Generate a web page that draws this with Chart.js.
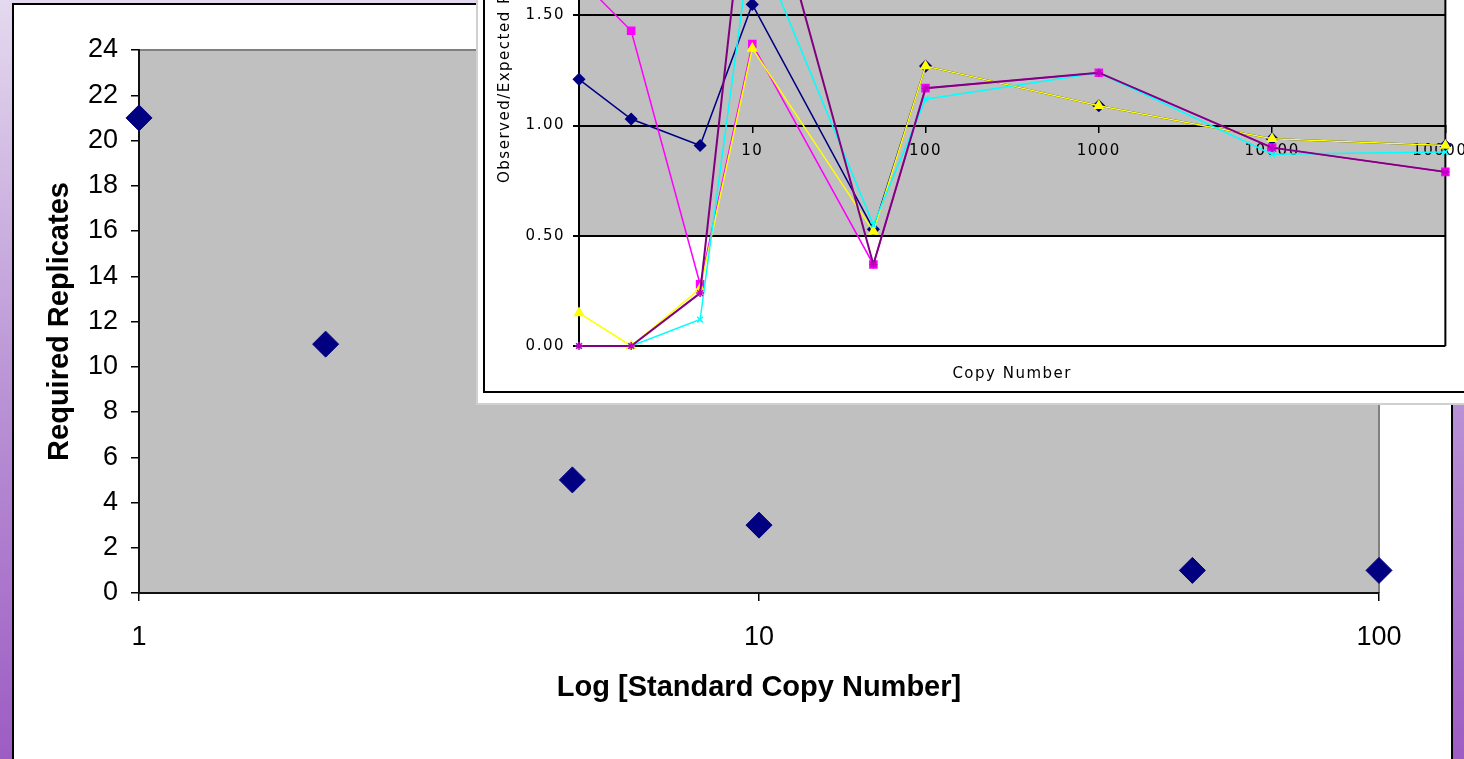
<!DOCTYPE html>
<html>
<head>
<meta charset="utf-8">
<script src="https://cdn.jsdelivr.net/npm/chart.js@4.4.0/dist/chart.umd.min.js"></script>
<style>
  html, body { margin: 0; padding: 0; }
  body {
    width: 1464px; height: 759px; overflow: hidden; position: relative;
    background: linear-gradient(to bottom, #e4d9ee 0%, #bb95d6 50%, #9d5cc3 100%);
  }
  .panel {
    position: absolute; left: 12px; top: 3px; width: 1441px; height: 800px;
    background: #fff; border: 2px solid #000; box-sizing: border-box;
  }
  #main { position: absolute; left: 14px; top: 5px; }
  .inset {
    position: absolute; left: 476px; top: 0; width: 1000px; height: 405px;
    background: #fff; border-left: 2px solid #d0d0d0; border-bottom: 2px solid #d0d0d0;
    box-sizing: border-box;
  }
  .frame {
    position: absolute; left: 483px; top: -222px; width: 1100px; height: 615px;
    border-left: 2px solid #000; border-bottom: 2px solid #000; box-sizing: border-box;
  }
  #inset { position: absolute; left: 485px; top: -222px; }
</style>
</head>
<body>
<div class="panel"></div>
<canvas id="main" width="1437" height="754"></canvas>
<div class="inset"></div>
<div class="frame"></div>
<canvas id="inset" width="1000" height="613"></canvas>
<script>
// main chart: replicates needed per standard copy number
const copyNumber = [1, 2, 5, 10, 50, 100];
const requiredReplicates = [21, 11, 5, 3, 1, 1];
const mainXTicks = [1, 10, 100];

// inset: observed/expected ratio per copy number, five runs
const insetCopyNumber = [1, 2, 5, 10, 50, 100, 1000, 10000, 100000];
const ratioNavy    = [1.21, 1.03, 0.91, 1.55, 0.53, 1.27, 1.09, 0.94, 0.91];
const ratioMagenta = [1.67, 1.43, 0.28, 1.37, 0.37, 1.17, 1.24, 0.90, 0.79];
const ratioYellow  = [0.15, 0.00, 0.26, 1.35, 0.52, 1.27, 1.09, 0.94, 0.91];
const ratioCyan    = [0.00, 0.00, 0.12, 1.88, 0.55, 1.12, 1.24, 0.87, 0.88];
const ratioPurple  = [0.00, 0.00, 0.24, 2.37, 0.37, 1.17, 1.24, 0.90, 0.79];
const insetXTicks = [1, 10, 100, 1000, 10000, 100000];
const insetYTicks = [0, 0.5, 1, 1.5, 2, 2.5];

const mainFont = 'Liberation Sans';
const insetFont = 'DejaVu Sans';

const mainBg = {
    id: 'mainBg',
    beforeDraw(chart) {
        let ctx = chart.ctx;
        let a = chart.chartArea;
        ctx.save();
        ctx.fillStyle = '#c0c0c0';
        ctx.fillRect(a.left, a.top, a.right - a.left, a.bottom - a.top);
        ctx.strokeStyle = '#808080';
        ctx.lineWidth = 2;
        ctx.beginPath();
        ctx.moveTo(a.left, a.top);
        ctx.lineTo(a.right, a.top);
        ctx.lineTo(a.right, a.bottom);
        ctx.stroke();
        ctx.restore();
    }
};

const insetBg = {
    id: 'insetBg',
    beforeDraw(chart) {
        let ctx = chart.ctx;
        let a = chart.chartArea;
        let half = chart.scales.y.getPixelForValue(0.5);
        ctx.save();
        ctx.fillStyle = '#c0c0c0';
        ctx.fillRect(a.left, a.top, a.right - a.left, half - a.top);
        ctx.strokeStyle = '#000';
        ctx.lineWidth = 2;
        ctx.beginPath();
        ctx.moveTo(a.right, a.top);
        ctx.lineTo(a.right, a.bottom);
        ctx.stroke();
        ctx.restore();
        ctx.letterSpacing = '1.5px';
    }
};

new Chart(document.getElementById('main'), {
    type: 'scatter',
    data: {
        datasets: [{
            data: copyNumber.map((x, i) => ({x: x, y: requiredReplicates[i]})),
            pointStyle: 'rectRot',
            pointRadius: 13,
            backgroundColor: '#000080',
            borderColor: '#000080',
            borderWidth: 1,
            clip: false,
        }],
    },
    options: {
        responsive: false,
        animation: false,
        devicePixelRatio: 1,
        layout: { padding: { left: 0, right: 72, top: 45, bottom: 0 } },
        plugins: { legend: { display: false }, tooltip: { enabled: false } },
        scales: {
            x: {
                type: 'logarithmic',
                min: 1,
                max: 100,
                afterBuildTicks: s => { s.ticks = mainXTicks.map(v => ({value: v})); },
                afterFit: s => { s.height = 166; },
                ticks: {
                    color: '#000', padding: 20, maxRotation: 0, autoSkip: false,
                    font: { family: mainFont, size: 27 },
                    callback: v => String(v),
                },
                grid: { drawOnChartArea: false, tickLength: 8, color: '#000', lineWidth: 1.5 },
                border: { color: '#111', width: 2 },
                title: {
                    display: true, text: 'Log [Standard Copy Number]', color: '#000',
                    font: { family: mainFont, size: 29, weight: 'bold' },
                    padding: { top: 0, bottom: 54 },
                },
            },
            y: {
                min: 0,
                max: 24,
                afterFit: s => { s.width = 125; },
                ticks: {
                    stepSize: 2, color: '#000', padding: 13,
                    font: { family: mainFont, size: 27 },
                },
                grid: { drawOnChartArea: false, tickLength: 8, color: '#000', lineWidth: 1.5 },
                border: { color: '#111', width: 2 },
                title: {
                    display: true, text: 'Required Replicates', color: '#000',
                    font: { family: mainFont, size: 29, weight: 'bold' },
                    padding: { top: 29, bottom: 0 },
                },
            },
        },
    },
    plugins: [mainBg],
});

function ratioSet(values, color, markColor, style, radius, width, order) {
    return {
        data: insetCopyNumber.map((x, i) => ({x: x, y: values[i]})),
        borderColor: color,
        borderWidth: width,
        pointStyle: style,
        pointRadius: radius,
        pointBackgroundColor: markColor,
        pointBorderColor: markColor,
        pointBorderWidth: 1.5,
        tension: 0,
        order: order,
        clip: false,
    };
}

new Chart(document.getElementById('inset'), {
    type: 'line',
    data: {
        datasets: [
            ratioSet(ratioNavy, '#000080', '#000080', 'rectRot', 5.5, 1.5, 5),
            ratioSet(ratioMagenta, '#ff00ff', '#ff00ff', 'rect', 5, 1.5, 4),
            ratioSet(ratioYellow, '#ffff00', '#ffff00', 'triangle', 5, 1.5, 3),
            ratioSet(ratioCyan, '#00ffff', '#00ffff', 'crossRot', 4, 1.5, 2),
            ratioSet(ratioPurple, '#800080', '#c000c0', 'star', 4, 2, 1),
        ],
    },
    options: {
        responsive: false,
        animation: false,
        devicePixelRatio: 1,
        layout: { padding: { left: 0, right: 29, top: 3, bottom: 0 } },
        plugins: { legend: { display: false }, tooltip: { enabled: false } },
        scales: {
            x: {
                type: 'logarithmic',
                position: { y: 1 },
                min: 1,
                max: 100000,
                afterBuildTicks: s => { s.ticks = insetXTicks.map(v => ({value: v})); },
                afterFit: s => { s.height = 0; },
                ticks: {
                    color: '#000', padding: 11, maxRotation: 0, autoSkip: false,
                    font: { family: insetFont, size: 15 },
                    callback: v => (v === 1 ? '' : String(v)),
                },
                grid: { drawOnChartArea: false, tickLength: 6, color: '#000', lineWidth: 1.5 },
                border: { color: '#000', width: 2 },
            },
            x2: {
                type: 'logarithmic',
                position: 'bottom',
                min: 1,
                max: 100000,
                afterFit: s => { s.height = 45; },
                ticks: { display: false },
                grid: { display: false },
                border: { display: false },
                title: {
                    display: true, text: 'Copy Number', color: '#000',
                    font: { family: insetFont, size: 15 },
                    padding: { top: 0, bottom: 8 },
                },
            },
            y: {
                min: 0,
                max: 2.5,
                afterBuildTicks: s => { s.ticks = insetYTicks.map(v => ({value: v})); },
                afterFit: s => { s.width = 94; },
                ticks: {
                    color: '#000', padding: 8,
                    font: { family: insetFont, size: 15 },
                    callback: v => v.toFixed(2),
                },
                grid: { color: '#000', lineWidth: 2, tickLength: 6 },
                border: { color: '#000', width: 2 },
                title: {
                    display: true, text: 'Observed/Expected Ratio', color: '#000',
                    font: { family: insetFont, size: 15 },
                    padding: { top: 11, bottom: 0 },
                },
            },
        },
    },
    plugins: [insetBg],
});
</script>
</body>
</html>
